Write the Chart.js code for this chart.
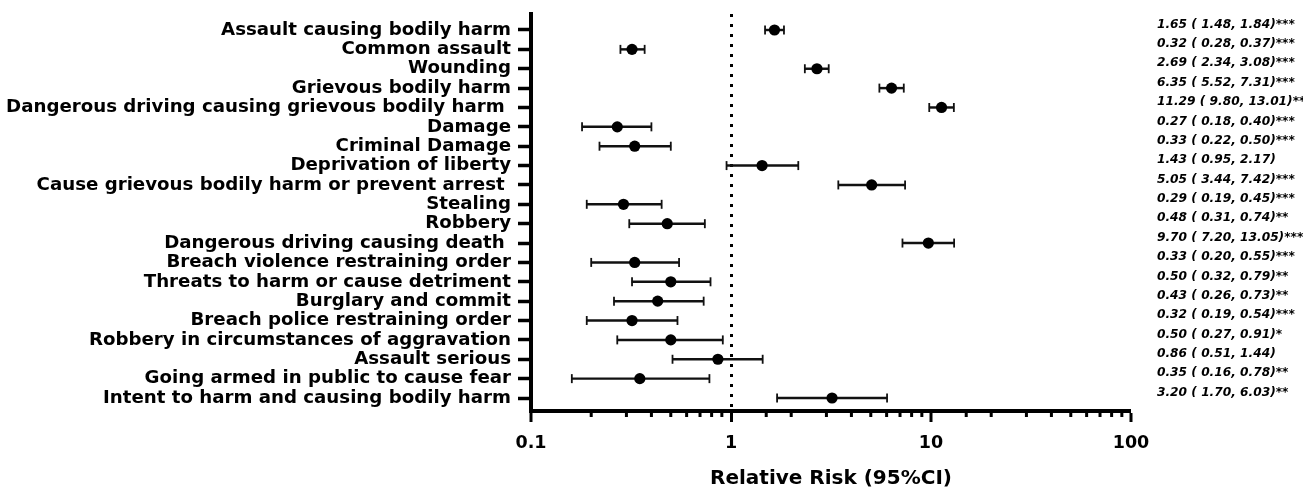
<!DOCTYPE html>
<html>
<head>
<meta charset="utf-8">
<script src="https://cdn.jsdelivr.net/npm/chart.js@4.4.1/dist/chart.umd.min.js"></script>
<style>
html,body{margin:0;padding:0;background:#fff}
#wrap{width:1303px;height:491px}
</style>
</head>
<body>
<div id="wrap"><canvas id="forest"></canvas></div>
<script>

/* =====================================================
DATA
===================================================== */

const offences=[
"Assault causing bodily harm",
"Common assault",
"Wounding",
"Grievous bodily harm",
"Dangerous driving causing grievous bodily harm ",
"Damage",
"Criminal Damage",
"Deprivation of liberty",
"Cause grievous bodily harm or prevent arrest ",
"Stealing",
"Robbery",
"Dangerous driving causing death ",
"Breach violence restraining order",
"Threats to harm or cause detriment",
"Burglary and commit",
"Breach police restraining order",
"Robbery in circumstances of aggravation",
"Assault serious",
"Going armed in public to cause fear",
"Intent to harm and causing bodily harm"
]

const rr=[1.65,0.32,2.69,6.35,11.29,0.27,0.33,1.43,5.05,0.29,0.48,9.70,0.33,0.50,0.43,0.32,0.50,0.86,0.35,3.20]
const ciLow=[1.48,0.28,2.34,5.52,9.80,0.18,0.22,0.95,3.44,0.19,0.31,7.20,0.20,0.32,0.26,0.19,0.27,0.51,0.16,1.70]
const ciHigh=[1.84,0.37,3.08,7.31,13.01,0.40,0.50,2.17,7.42,0.45,0.74,13.05,0.55,0.79,0.73,0.54,0.91,1.44,0.78,6.03]
const stars=["***","***","***","***","***","***","***","","***","***","**","***","***","**","**","***","*","","**","**"]

const xTickValues=[0.1,1,10,100]
const xTickLabels=["0.1","1","10","100"]

const rowPos=offences.map((o,i)=>i+1)

const notes=rr.map((v,i)=>
v.toFixed(2)+" ( "+ciLow[i].toFixed(2)+", "+ciHigh[i].toFixed(2)+")"+stars[i]
)


/* =====================================================
HELPERS
===================================================== */

function decadeLabel(v){
const k=xTickValues.findIndex(t=>Math.abs(Math.log10(t)-Math.log10(v))<1e-6)
return k<0?null:xTickLabels[k]
}

const rowTicks=scale=>{
scale.ticks=rowPos.map(v=>({value:v}))
}

// fixed width, and no extra top/bottom padding pushed into the layout
const fixWidth=w=>s=>{
s.width=w
s.paddingTop=0
s.paddingBottom=0
}


/* =====================================================
MINOR TICKS ON LOG AXIS
===================================================== */

const minorTicks={
id:"minorTicks",
afterDraw(chart){
const x=chart.scales.x
const ctx=chart.ctx
const y=chart.chartArea.bottom
ctx.save()
ctx.strokeStyle="#000"
ctx.lineWidth=3
x.ticks.forEach(t=>{
if(decadeLabel(t.value)) return
const px=x.getPixelForValue(t.value)
ctx.beginPath()
ctx.moveTo(px,y)
ctx.lineTo(px,y+6)
ctx.stroke()
})
ctx.restore()
}
}


/* =====================================================
FOREST PLOT
===================================================== */

Chart.defaults.font.family="DejaVu Sans"
Chart.defaults.color="#000"

const yMin=0.174
const yMax=20.671
// the text column on the right sits a few px higher than the rows
const noteShift=0.28

new Chart(document.getElementById("forest"),{
type:"scatter",
data:{
datasets:[
{
data:rowPos.map((p,i)=>({x:rr[i],y:p})),
backgroundColor:"#000",
borderWidth:0,
pointRadius:5.6,
xAxisID:"x",
yAxisID:"y"
},
{
data:rowPos.map((p,i)=>({x:ciLow[i],y:p})),
pointStyle:"line",
rotation:90,
pointRadius:4.5,
borderColor:"#111",
borderWidth:1.8,
xAxisID:"x",
yAxisID:"y"
},
{
data:rowPos.map((p,i)=>({x:ciHigh[i],y:p})),
pointStyle:"line",
rotation:90,
pointRadius:4.5,
borderColor:"#111",
borderWidth:1.8,
xAxisID:"x",
yAxisID:"y"
},
{
type:"bar",
indexAxis:"y",
data:rowPos.map((p,i)=>({x:[ciLow[i],ciHigh[i]],y:p})),
backgroundColor:"#111",
barThickness:1.8,
xAxisID:"x",
yAxisID:"y"
}
]
},
options:{
responsive:true,
maintainAspectRatio:false,
animation:false,
events:[],
layout:{padding:{top:14,left:0,right:0,bottom:0}},
plugins:{legend:{display:false},tooltip:{enabled:false}},
scales:{
x:{
type:"logarithmic",
position:"bottom",
min:0.1,
max:100,
offset:false,
afterFit:s=>{s.height=80},
border:{display:true,color:"#000",width:4,dash:[3,7]},
grid:{
offset:false,
drawOnChartArea:true,
color:c=>c.tick&&c.tick.value===1?"#000":"rgba(0,0,0,0)",
lineWidth:c=>c.tick&&c.tick.value===1?3:0,
tickLength:11,
tickWidth:3,
tickColor:c=>c.tick&&decadeLabel(c.tick.value)?"#000":"rgba(0,0,0,0)"
},
ticks:{
autoSkip:false,
maxRotation:0,
padding:11,
font:{size:17.5,weight:"bold"},
callback:v=>decadeLabel(v)||""
},
title:{
display:true,
text:"Relative Risk (95%CI)",
font:{size:20,weight:"bold"},
padding:{top:0,bottom:0}
}
},
y:{
type:"linear",
position:"left",
reverse:true,
min:yMin,
max:yMax,
offset:false,
afterBuildTicks:rowTicks,
afterFit:fixWidth(531),
border:{display:true,color:"#000",width:4},
grid:{offset:false,drawOnChartArea:false,tickLength:13,tickWidth:3.5,tickColor:"#000"},
ticks:{
autoSkip:false,
padding:7,
font:{size:18.2,weight:"bold"},
callback:v=>offences[v-1]
}
},
y2:{
type:"linear",
position:"right",
reverse:true,
min:yMin+noteShift,
max:yMax+noteShift,
offset:false,
afterBuildTicks:rowTicks,
afterFit:fixWidth(172),
border:{display:false},
grid:{display:false,drawTicks:false},
ticks:{
autoSkip:false,
padding:26,
font:{size:12.2,weight:"bold",style:"italic"},
callback:v=>notes[v-1]
}
}
}
},
plugins:[minorTicks]
})

</script>
</body>
</html>
